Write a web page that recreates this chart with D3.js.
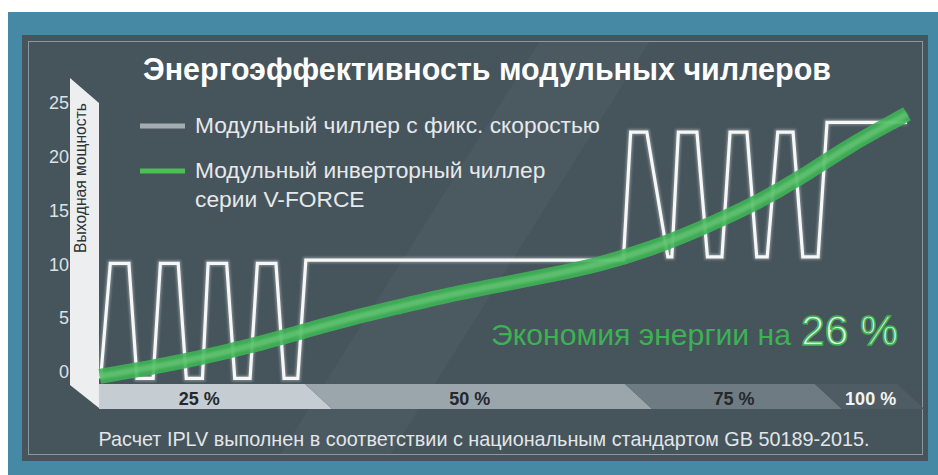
<!DOCTYPE html>
<html lang="ru">
<head>
<meta charset="UTF-8">
<title>Энергоэффективность модульных чиллеров</title>
<style>
  body { margin: 0; padding: 0; background: #fff; }
  svg { display: block; font-family: "Liberation Sans", Arial, sans-serif; }
</style>
</head>
<body>
<script src="https://d3js.org/d3.v7.min.js"></script>
<script>
var width = 938, height = 475;

// --- data ---
var yTicks = [0, 5, 10, 15, 20, 25];
var loadLabels = ["25 %", "50 %", "75 %", "100 %"];
var loadLabelX = [12.4, 45.9, 78.6, 95.5];
var loadStops = [0, 25.5, 65.1, 88.6, 98.8];

// fixed speed chiller (on/off cycling)
var fixedX = [0.2, 1.4, 3.7, 4.7, 6.7, 7.6, 9.8, 10.8, 12.8, 13.5, 15.8, 16.8, 18.7, 19.6, 21.9, 22.9, 24.6, 25.6,
              64.9, 65.8, 67.8, 70.4, 70.9, 71.7, 74.0, 75.3, 77.1, 78.1, 80.2, 81.4, 82.7, 84.0, 85.9, 87.1, 89.0, 90.1, 100];
var fixedY = [-0.6, 10.1, 10.1, -0.6, -0.6, 10.1, 10.1, -0.6, -0.6, 10.1, 10.1, -0.6, -0.6, 10.1, 10.1, -0.6, -0.6, 10.4,
              10.4, 22.3, 22.3, 10.7, 10.7, 22.3, 22.3, 10.7, 10.7, 22.3, 22.3, 10.7, 10.7, 22.3, 22.3, 10.7, 10.7, 23.2, 23.2];

// inverter chiller (smooth)
var inverterX = [0.1, 6.3, 12.5, 18.7, 24.9, 31.1, 37.3, 43.4, 49.6, 55.8, 62.0, 68.2, 74.4, 80.6, 86.8, 92.9, 99.1, 100];
var inverterY = [-0.4, 0.4, 1.3, 2.4, 3.7, 5.0, 6.1, 7.2, 8.1, 9.0, 10.0, 11.4, 13.3, 15.4, 18.0, 21.1, 23.6, 24.0];

var legendLines = [["Модульный чиллер с фикс. скоростью"], ["Модульный инверторный чиллер", "серии V-FORCE"]];
var titleText = "Энергоэффективность модульных чиллеров";
var yTitle = "Выходная мощность";
var savingText = "Экономия энергии на";
var savingValue = "26 %";
var noteText = "Расчет IPLV выполнен в соответствии с национальным стандартом GB 50189-2015.";

var x = d3.scaleLinear().domain([0, 100]).range([99, 907]);
var y = d3.scaleLinear().domain([0, 25]).range([372, 103]);

var svg = d3.select("body").append("svg")
    .attr("width", width)
    .attr("height", height);

var defs = svg.append("defs");
defs.append("filter").attr("id", "soft")
    .attr("x", "-10%").attr("y", "-10%").attr("width", "120%").attr("height", "120%")
    .append("feGaussianBlur").attr("stdDeviation", 1.3);
defs.append("filter").attr("id", "edge")
    .attr("x", "-10%").attr("y", "-10%").attr("width", "120%").attr("height", "120%")
    .append("feGaussianBlur").attr("stdDeviation", 0.6);

// scale text so it fills the width it has in the picture
function fit(sel, w) {
    var fs = parseFloat(sel.attr("font-size"));
    var len = sel.node().getComputedTextLength();
    sel.attr("font-size", (fs * w / len).toFixed(2));
    return sel;
}

// frame
svg.append("rect").attr("x", 8).attr("y", 12).attr("width", 930).attr("height", 463).attr("fill", "#4589a5");
svg.append("rect").attr("x", 22).attr("y", 35).attr("width", 906).attr("height", 426).attr("fill", "#46545c");
svg.append("polygon")
    .attr("points", "540,41 650,41 390,455 280,455")
    .attr("fill", "#fff").attr("opacity", 0.03);
svg.append("rect").attr("x", 28.5).attr("y", 41.5).attr("width", 894).attr("height", 413)
    .attr("fill", "none").attr("stroke", "#8b989f").attr("stroke-width", 1);

// title
fit(svg.append("text")
    .attr("x", 487).attr("y", 80)
    .attr("text-anchor", "middle")
    .attr("font-size", 26).attr("font-weight", "bold")
    .attr("fill", "#fff")
    .text(titleText), 688);

// wall + y axis
svg.append("polygon")
    .attr("points", "70,78 99,103 99,408 70,385")
    .attr("fill", "#eceeef");

fit(svg.append("text")
    .attr("transform", "translate(80,178) rotate(-90)")
    .attr("text-anchor", "middle")
    .attr("dy", "0.35em")
    .attr("font-size", 12.5)
    .attr("fill", "#2d3336")
    .text(yTitle), 150);

var yAxis = svg.append("g")
    .attr("transform", "translate(70,0)")
    .call(d3.axisLeft(y).tickValues(yTicks).tickSize(0).tickPadding(1));
yAxis.select(".domain").remove();
yAxis.selectAll("text")
    .attr("font-size", 18)
    .attr("font-family", "'Liberation Sans', Arial, sans-serif")
    .attr("fill", "#dde2e5");

// floor band with load stages
var bandTop = 384, bandBottom = 409, skew = 27;
var bandColors = ["#c5cdd2", "#9ba6ac", "#6f7b83", "#4f5c64"];
for (var i = 0; i < loadStops.length - 1; i++) {
    var x0 = x(loadStops[i]), x1 = x(loadStops[i + 1]);
    var b0 = i === 0 ? x0 : x0 + skew;
    svg.append("polygon")
        .attr("points", [[x0, bandTop], [x1, bandTop], [x1 + skew, bandBottom], [b0, bandBottom]].join(" "))
        .attr("fill", bandColors[i]);
}
svg.selectAll(".load-label")
    .data(loadLabels)
    .enter().append("text")
    .attr("class", "load-label")
    .attr("x", function (d, i) { return x(loadLabelX[i]); })
    .attr("y", 405)
    .attr("text-anchor", "middle")
    .attr("font-size", 18).attr("font-weight", "bold")
    .attr("fill", function (d, i) { return i === 3 ? "#f2f4f5" : "#23292c"; })
    .text(function (d) { return d; });

// fixed speed line
var fixedPts = fixedX.map(function (d, i) { return [d, fixedY[i]]; });
var stepLine = d3.line()
    .x(function (d) { return x(d[0]); })
    .y(function (d) { return y(d[1]); });

svg.append("path")
    .attr("d", stepLine(fixedPts))
    .attr("fill", "none")
    .attr("stroke", "#fff").attr("stroke-opacity", 0.3)
    .attr("stroke-width", 6)
    .attr("filter", "url(#soft)");
svg.append("path")
    .attr("d", stepLine(fixedPts))
    .attr("fill", "none")
    .attr("stroke", "#f6f7f7")
    .attr("stroke-width", 3.2)
    .attr("stroke-linejoin", "miter");

// inverter curve
var invPts = inverterX.map(function (d, i) { return [d, inverterY[i]]; });
var smooth = d3.line()
    .x(function (d) { return x(d[0]); })
    .y(function (d) { return y(d[1]); })
    .curve(d3.curveBasis);

svg.append("path")
    .attr("d", smooth(invPts))
    .attr("fill", "none")
    .attr("stroke", "#3fb455").attr("stroke-opacity", 0.9)
    .attr("stroke-width", 15)
    .attr("filter", "url(#edge)");
svg.append("path")
    .attr("d", smooth(invPts))
    .attr("fill", "none")
    .attr("stroke", "#74cf81").attr("stroke-opacity", 0.55)
    .attr("stroke-width", 6)
    .attr("filter", "url(#soft)");

// legend
var legendColors = ["#a3acb1", "#4cbf52"];
var legendY = [126, 171];
var legendSize = 19;
legendLines.forEach(function (lines, i) {
    svg.append("line")
        .attr("x1", 140).attr("x2", 185)
        .attr("y1", legendY[i]).attr("y2", legendY[i])
        .attr("stroke", legendColors[i]).attr("stroke-width", 5);
    var t = svg.append("text")
        .attr("x", 195).attr("y", legendY[i] + 7)
        .attr("font-size", legendSize)
        .attr("fill", "#e6e9eb");
    lines.forEach(function (s, j) {
        t.append("tspan").attr("x", 195).attr("dy", j === 0 ? 0 : 29).text(s);
    });
    if (i === 0) {
        fit(t, 405);
        legendSize = parseFloat(t.attr("font-size"));
    }
});

// savings note
fit(svg.append("text")
    .attr("x", 491).attr("y", 345)
    .attr("font-size", 27)
    .attr("fill", "#3db153")
    .text(savingText), 300);
fit(svg.append("text")
    .attr("x", 801).attr("y", 345)
    .attr("font-size", 42)
    .attr("fill", "#e3f2e5")
    .attr("stroke", "#3db153").attr("stroke-width", 1.6)
    .text(savingValue), 97);

// footnote
fit(svg.append("text")
    .attr("x", 484).attr("y", 446)
    .attr("text-anchor", "middle")
    .attr("font-size", 19)
    .attr("fill", "#e2e6e8")
    .text(noteText), 772);
</script>
</body>
</html>
